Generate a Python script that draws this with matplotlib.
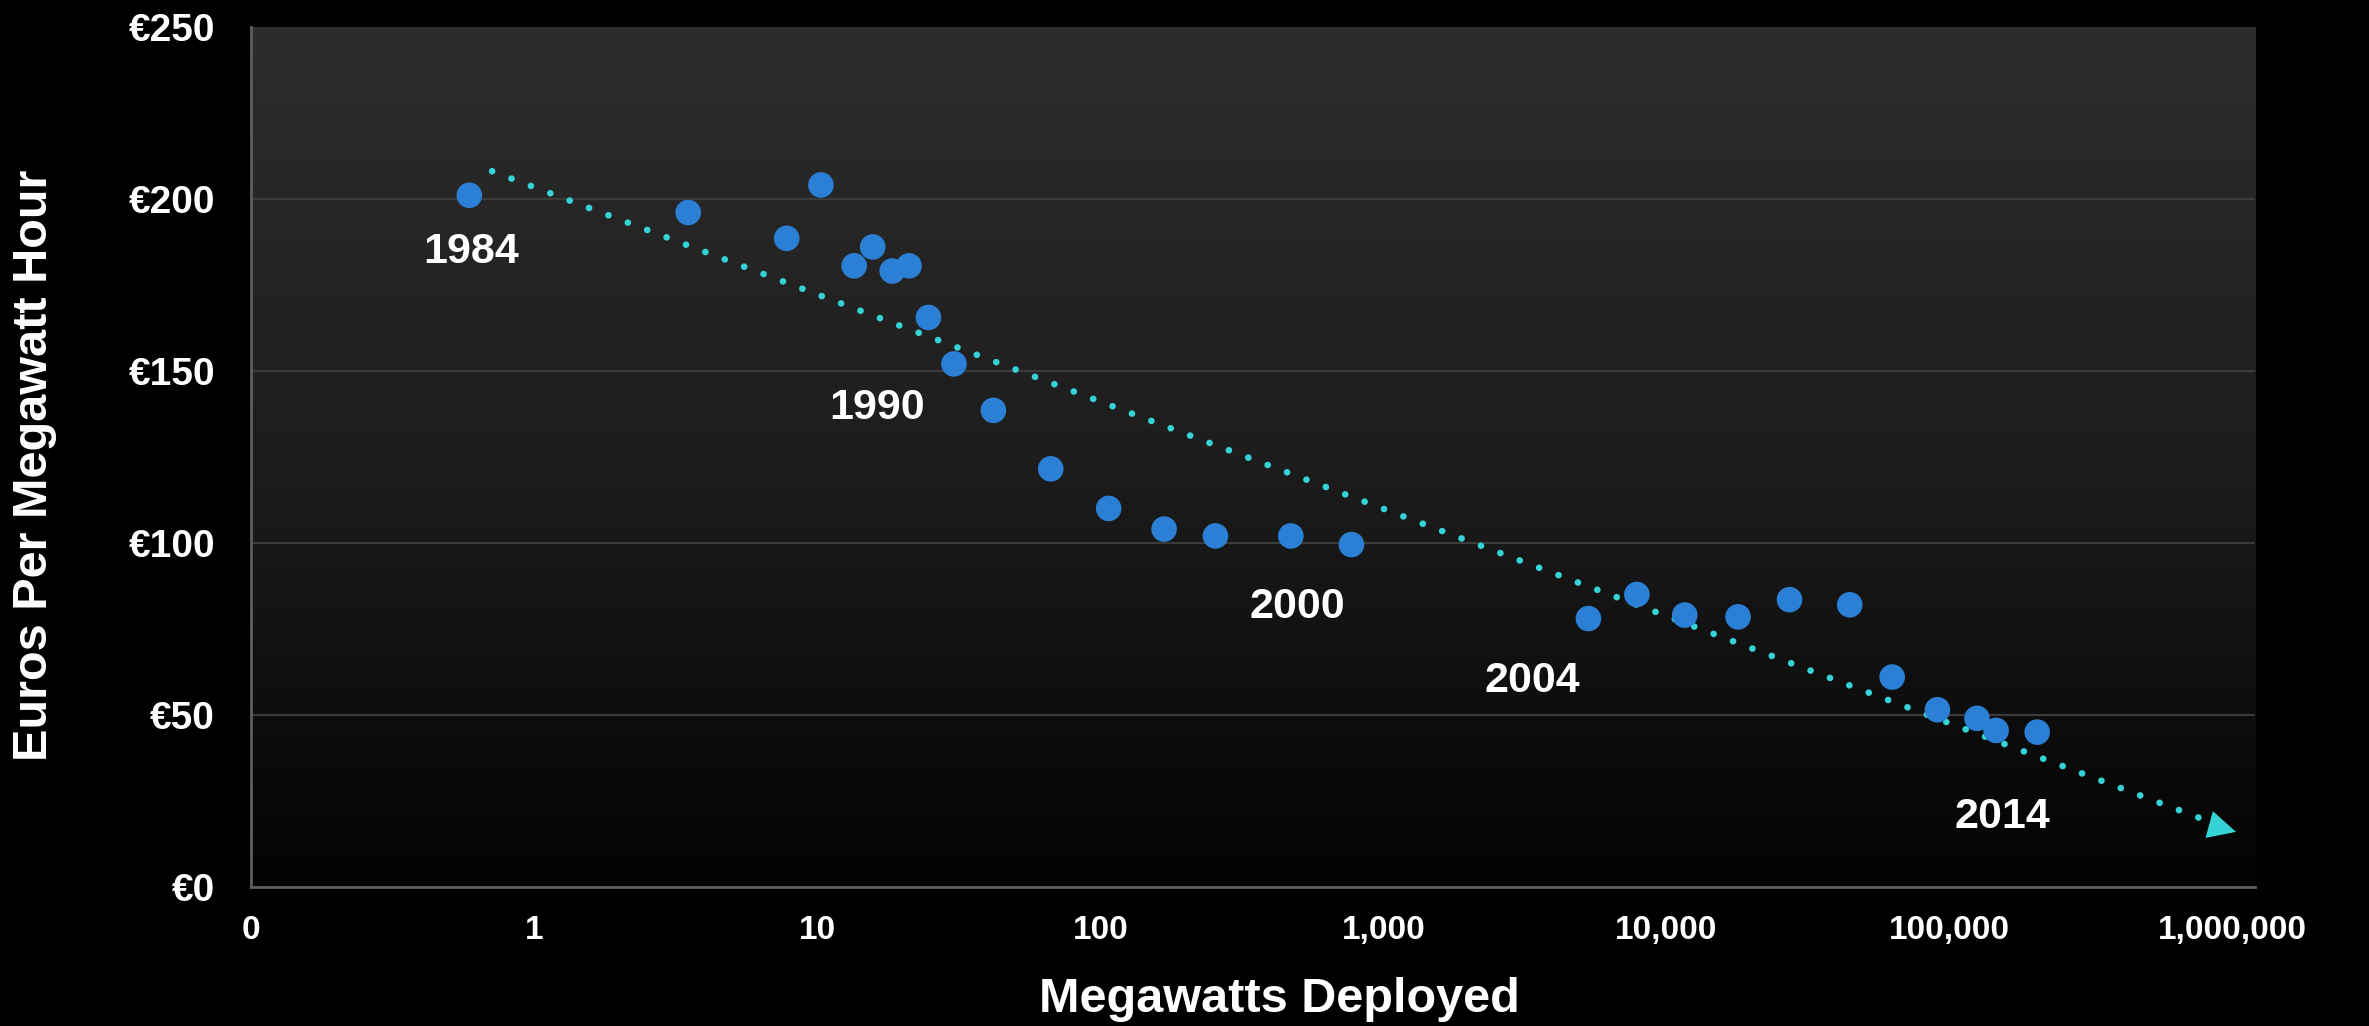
import numpy as np
import matplotlib.pyplot as plt
from matplotlib.colors import LinearSegmentedColormap

# cumulative megawatts deployed vs price
megawatts = [0.59, 3.5, 7.8, 10.3, 13.5, 15.7, 18.4, 21.1, 24.7, 30.4, 41.9,
             66.8, 107, 168, 255, 471, 771, 5300, 7860, 11600, 17900, 27200,
             44400, 62700, 90600, 125000, 146000, 204000]
euros = [201, 196, 188.5, 204, 180.5, 186, 179, 180.5, 165.5, 152, 138.5,
         121.5, 110, 104, 102, 102, 99.5, 78, 85, 79, 78.5, 83.5,
         82, 61, 51.5, 49, 45.5, 45]

# dotted trend line with arrow
trend_x = [0.71, 890000]
trend_y = [208, 18]

# year callouts
years = ['1984', '1990', '2000', '2004', '2014']
year_x = [0.60, 16.3, 497, 3365, 153500]
year_y = [184.5, 139.3, 81.3, 59.8, 20.2]

x_ticks = [0.1, 1, 10, 100, 1000, 10000, 100000, 1000000]
x_labels = ['0', '1', '10', '100', '1,000', '10,000', '100,000', '1,000,000']
y_ticks = [0, 50, 100, 150, 200, 250]
y_labels = ['€0', '€50', '€100', '€150', '€200', '€250']

plt.rcParams['font.family'] = ['Liberation Sans', 'DejaVu Sans']

fig = plt.figure(figsize=(23.69, 10.26), dpi=100, facecolor='black')
rect = [0.106, 0.1355, 0.846, 0.8385]

# gradient background behind the plot area
bg = fig.add_axes(rect, zorder=0)
grad = np.linspace(0, 1, 256).reshape(-1, 1)
cm_bg = LinearSegmentedColormap.from_list('bg', ['#2c2d2c', '#1c1d1c', '#030303'])
bg.imshow(grad, aspect='auto', cmap=cm_bg, extent=[0, 1, 0, 1])
bg.axis('off')

ax = fig.add_axes(rect, zorder=1)
ax.patch.set_alpha(0)
ax.set_xscale('log')
ax.set_xlim(0.1, 10 ** 6.08)
ax.set_ylim(0, 250)

for yv in y_ticks[1:-1]:
    ax.axhline(yv, color='#3a3b3a', lw=1.6, zorder=1)

ax.plot(trend_x, trend_y, color='#35d3d6', lw=4.8, linestyle=(0, (0.01, 3.1)),
        dash_capstyle='round', zorder=2)
ax.annotate('', xy=(trend_x[1] * 1.18, trend_y[1] - 2.2),
            xytext=(trend_x[1] * 0.8, trend_y[1] + 1.6),
            arrowprops=dict(arrowstyle='-|>', color='#35d3d6', lw=0,
                            mutation_scale=50), zorder=3)

ax.scatter(megawatts, euros, s=340, color='#2b7fd4', edgecolors='none', zorder=4)

for t, xv, yv in zip(years, year_x, year_y):
    ax.text(xv, yv, t, color='white', fontsize=31, fontweight='bold',
            ha='center', va='center', zorder=5)

ax.set_xticks(x_ticks)
ax.set_xticklabels(x_labels)
ax.minorticks_off()
ax.set_yticks(y_ticks)
ax.set_yticklabels(y_labels)
ax.tick_params(axis='both', length=0, colors='white')
ax.tick_params(axis='x', pad=20, labelsize=24)
ax.tick_params(axis='y', pad=26, labelsize=28)
for lab in ax.get_xticklabels() + ax.get_yticklabels():
    lab.set_fontweight('bold')

for s in ['top', 'right']:
    ax.spines[s].set_visible(False)
for s in ['left', 'bottom']:
    ax.spines[s].set_color('#5e5e5e')
    ax.spines[s].set_linewidth(2)

ax.set_xlabel('Megawatts Deployed', color='white', fontsize=35, fontweight='bold')
ax.set_ylabel('Euros Per Megawatt Hour', color='white', fontsize=35, fontweight='bold')
ax.xaxis.set_label_coords(0.513, -0.105)
ax.yaxis.set_label_coords(-0.097, 0.49)

plt.savefig('out.png', dpi=100, facecolor='black')
